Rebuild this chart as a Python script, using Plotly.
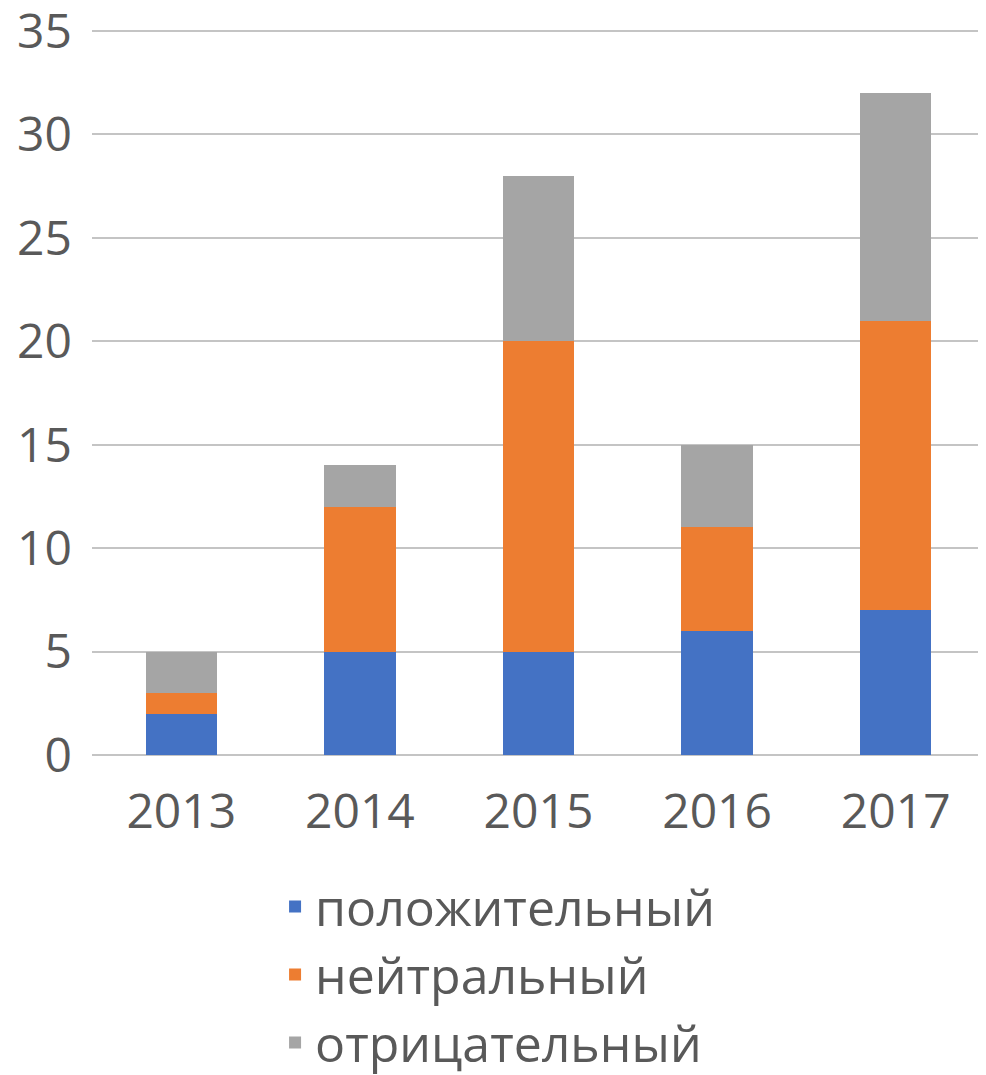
import plotly.graph_objects as go

years = ["2013", "2014", "2015", "2016", "2017"]
positive = [2, 5, 5, 6, 7]
neutral = [1, 7, 15, 5, 14]
negative = [2, 2, 8, 4, 11]

series_names = ["положительный", "нейтральный", "отрицательный"]
colors = ["#4472C4", "#ED7D31", "#A5A5A5"]
y_ticks = [0, 5, 10, 15, 20, 25, 30, 35]

FONT = "Open Sans"
C_TEXT = "#595959"
C_GRID = "#C4C4C4"

fig = go.Figure()
for name, vals, col in zip(series_names, [positive, neutral, negative], colors):
    fig.add_trace(go.Bar(
        x=years, y=vals, name=name,
        marker=dict(color=col, line=dict(width=0)),
    ))

# page body has an 8px margin; figure is a bit taller than the window so the
# legend fits without pushing the plot margins
fig.update_layout(
    barmode="stack",
    bargap=0.6,
    width=978, height=1085,
    margin=dict(l=84, r=1, t=22, b=338, autoexpand=False),
    paper_bgcolor="white", plot_bgcolor="white",
    font=dict(family=FONT, size=48, color=C_TEXT),
    showlegend=True,
    legend=dict(
        orientation="v", traceorder="normal",
        x=0.205, xanchor="left",
        y=-0.155, yanchor="top",
        font=dict(family=FONT, size=50, color=C_TEXT),
        itemwidth=30, tracegroupgap=0,
        bgcolor="rgba(0,0,0,0)",
    ),
)
fig.update_xaxes(
    showgrid=False, showline=False, zeroline=False, automargin=False,
    tickfont=dict(size=48, color=C_TEXT), ticklabelstandoff=24,
)
fig.update_yaxes(
    range=[0, 35.05], tickvals=y_ticks, automargin=False,
    showgrid=True, gridcolor=C_GRID, gridwidth=2,
    zeroline=True, zerolinecolor=C_GRID, zerolinewidth=2,
    showline=False, ticklabeloverflow="allow",
    tickfont=dict(size=48, color=C_TEXT), ticklabelstandoff=19,
)

fig.write_html("out.html")
